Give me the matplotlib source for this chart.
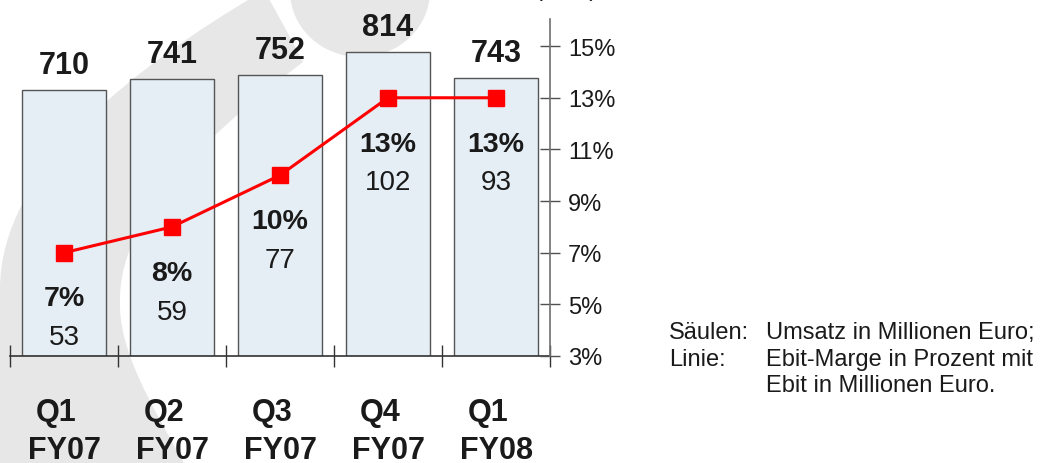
import matplotlib
matplotlib.use('Agg')
import matplotlib.pyplot as plt
from matplotlib.path import Path
from matplotlib.patches import PathPatch, Ellipse
import numpy as np

# ---- data ----
quarters = ['Q1', 'Q2', 'Q3', 'Q4', 'Q1']
fiscal_years = ['FY07', 'FY07', 'FY07', 'FY07', 'FY08']
umsatz = [710, 741, 752, 814, 743]          # Säulen: Umsatz in Mio. Euro
ebit_marge = [7, 8, 10, 13, 13]             # Linie: Ebit-Marge in %
ebit = [53, 59, 77, 102, 93]                # Ebit in Mio. Euro
pct_ticks = [3, 5, 7, 9, 11, 13, 15]

plt.rcParams['font.family'] = ['Liberation Sans', 'DejaVu Sans']

W, H = 1040, 464
fig = plt.figure(figsize=(W / 100, H / 100), dpi=100)
fig.patch.set_facecolor('white')

# ---- decorative background swoosh (pixel coordinates) ----
bg = fig.add_axes([0, 0, 1, 1], zorder=0)
bg.set_xlim(0, W)
bg.set_ylim(H, 0)
bg.axis('off')
grey = '#e7e7e7'
verts = [(258, -5), (135, 68), (0, 170), (0, 290),
         (-10, 290), (-10, 475), (190, 475),
         (148, 400), (118, 350), (120, 300),
         (120, 210), (223, 124), (303, 63),
         (282, 22), (266, -5),
         (258, -5), (258, -5)]
codes = [Path.MOVETO, Path.CURVE4, Path.CURVE4, Path.CURVE4,
         Path.LINETO, Path.LINETO, Path.LINETO,
         Path.CURVE4, Path.CURVE4, Path.CURVE4,
         Path.CURVE4, Path.CURVE4, Path.CURVE4,
         Path.CURVE3, Path.CURVE3,
         Path.LINETO, Path.CLOSEPOLY]
bg.add_patch(PathPatch(Path(verts, codes), facecolor=grey, edgecolor='none'))
bg.add_patch(Ellipse((360, -8), 140, 132, facecolor=grey, edgecolor='none'))

# ---- main axes ----
ax = fig.add_axes([10 / W, 1 - 357 / H, 540 / W, 337 / H], zorder=1)
ax.patch.set_alpha(0)
x = np.arange(len(umsatz))
ax.bar(x, umsatz, width=0.772, color='#e5edf5', edgecolor='#555555',
       linewidth=1.0, zorder=2)
ax.set_xlim(-0.5, len(umsatz) - 0.5)
ax.set_ylim(0, 901)
for s in ['left', 'top', 'right']:
    ax.spines[s].set_visible(False)
ax.spines['bottom'].set_color('#333333')
ax.spines['bottom'].set_linewidth(1.2)
ax.set_xticks(np.arange(len(umsatz) + 1) - 0.5)
ax.set_xticklabels([])
ax.tick_params(axis='x', direction='inout', length=16, width=1.0, color='#333333')
ax.set_yticks([])

ax2 = ax.twinx()
ax2.set_zorder(2)
ax2.patch.set_visible(False)
ax2.set_ylim(3, 16.05)
for s in ['left', 'top', 'bottom']:
    ax2.spines[s].set_visible(False)
ax2.spines['right'].set_color('#707070')
ax2.spines['right'].set_linewidth(1.2)
ax2.set_yticks(pct_ticks)
ax2.set_yticklabels([f'{v}%' for v in pct_ticks])
ax2.tick_params(axis='y', direction='inout', length=13.7, width=1.0,
                color='#505050', pad=6, labelsize=17, labelcolor='#1a1a1a')

ax2.plot(x, ebit_marge, color='#ff0000', lw=2.2, marker='s', ms=11,
         mec='#ff0000', mfc='#ff0000', zorder=5, clip_on=False)

tc = '#1a1a1a'
for i in range(len(umsatz)):
    ax.annotate(str(umsatz[i]), (x[i], umsatz[i]), xytext=(0, 12.2),
                textcoords='offset points', ha='center', va='baseline',
                fontsize=22, fontweight='bold', color=tc, annotation_clip=False)
    ax2.annotate(f'{ebit_marge[i]}%', (x[i], ebit_marge[i]), xytext=(0, -38),
                 textcoords='offset points', ha='center', va='baseline',
                 fontsize=20.5, fontweight='bold', color=tc)
    ax2.annotate(str(ebit[i]), (x[i], ebit_marge[i]), xytext=(0, -66),
                 textcoords='offset points', ha='center', va='baseline',
                 fontsize=20, color=tc)
    ax.annotate(quarters[i], (x[i], 0), xytext=(-5.8, -46),
                textcoords='offset points', ha='center', va='baseline',
                fontsize=22, fontweight='bold', color=tc, annotation_clip=False)
    ax.annotate(fiscal_years[i], (x[i], 0), xytext=(0.7, -73.5),
                textcoords='offset points', ha='center', va='baseline',
                fontsize=22, fontweight='bold', color=tc, annotation_clip=False)

# ---- notes ----
bg.text(566, -4, '(in %)', ha='center', va='baseline', fontsize=17, color=tc, clip_on=False)
bg.text(669, 339, 'Säulen:', fontsize=17, va='baseline', color=tc)
bg.text(766, 339, 'Umsatz in Millionen Euro;', fontsize=17, va='baseline', color=tc)
bg.text(669, 366, 'Linie:', fontsize=17, va='baseline', color=tc)
bg.text(766, 366, 'Ebit-Marge in Prozent mit', fontsize=17, va='baseline', color=tc)
bg.text(766, 392, 'Ebit in Millionen Euro.', fontsize=17, va='baseline', color=tc)

fig.savefig('out.png', dpi=100)
